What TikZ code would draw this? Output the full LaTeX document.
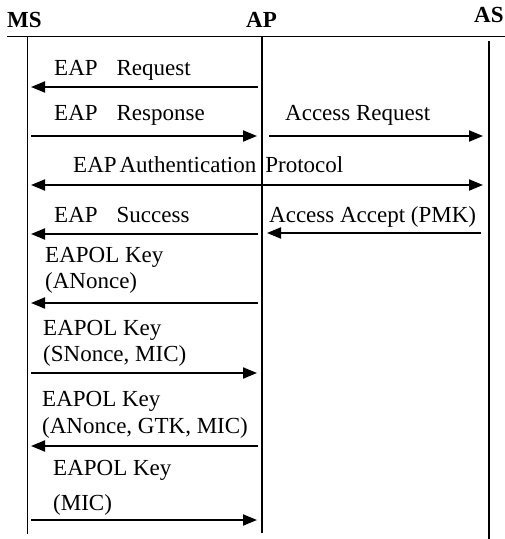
\documentclass[tikz,border=0pt]{standalone}
\usepackage{fontspec}
\setmainfont{Liberation Serif}
\usetikzlibrary{arrows.meta}
\begin{document}
\begin{tikzpicture}[x=1pt,y=-1pt,
  tip/.tip={Triangle[length=14pt,width=11pt]},
  msg/.style={line width=2pt,-tip},
  msgboth/.style={line width=2pt,tip-tip},
  life/.style={line width=1.3pt},
  lbl/.style={anchor=base west,inner sep=0pt,font=\fontsize{23}{27}\selectfont},
  ent/.style={anchor=base west,inner sep=0pt,font=\fontsize{23}{27}\selectfont\bfseries}]
\useasboundingbox (0,0) rectangle (505,539);

% entity headings
\node[ent] (ms) at (7,27) {MS};
\node[ent] (ap) at (246,27) {AP};
\node[ent] (as) at (474,22) {AS};

% header rule and lifelines
\coordinate (rulel) at (7,36);
\coordinate (ruler) at (505,36);
\draw[line width=1pt] (rulel) -- (ruler);
\coordinate (mstop) at (27.5,36);
\coordinate (msbot) at (27.5,534);
\coordinate (aptop) at (262,36);
\coordinate (apbot) at (262,533);
\coordinate (astop) at (489,41);
\coordinate (asbot) at (489,539);
\draw[life] (mstop) -- (msbot);
\draw[life] (aptop) -- (apbot);
\draw[life] (astop) -- (asbot);

% EAP Request
\node[lbl] (t1) at (54,75) {EAP\hspace{19pt}Request};
\coordinate (m1s) at (258,87); \coordinate (m1e) at (31,87);
\draw[msg] (m1s) -- (m1e);

% EAP Response / Access Request
\node[lbl] (t2) at (54,120) {EAP\hspace{19pt}Response};
\coordinate (m2s) at (31,136); \coordinate (m2e) at (257,136);
\draw[msg] (m2s) -- (m2e);
\node[lbl] (t3) at (285,120) {Access Request};
\coordinate (m3s) at (269,136); \coordinate (m3e) at (483,136);
\draw[msg] (m3s) -- (m3e);

% EAP Authentication Protocol
\node[lbl] (t4) at (73,172) {EAP\hspace{3pt}Authentication\hspace{9pt}Protocol};
\coordinate (m4s) at (31,185); \coordinate (m4e) at (483,185);
\draw[msgboth] (m4s) -- (m4e);

% EAP Success / Access Accept
\node[lbl] (t5) at (54,222) {EAP\hspace{19pt}Success};
\coordinate (m5s) at (258,234); \coordinate (m5e) at (31,234);
\draw[msg] (m5s) -- (m5e);
\node[lbl] (t6) at (269,222) {Access Accept (PMK)};
\coordinate (m6s) at (481,233); \coordinate (m6e) at (267,233);
\draw[msg] (m6s) -- (m6e);

% EAPOL-Key message 1
\node[lbl] (t7a) at (45,262) {EAPOL Key};
\node[lbl] (t7b) at (45,288) {(ANonce)};
\coordinate (m7s) at (258,303); \coordinate (m7e) at (31,303);
\draw[msg] (m7s) -- (m7e);

% EAPOL-Key message 2
\node[lbl] (t8a) at (43,335) {EAPOL Key};
\node[lbl] (t8b) at (43,361) {(SNonce, MIC)};
\coordinate (m8s) at (31,373); \coordinate (m8e) at (257,373);
\draw[msg] (m8s) -- (m8e);

% EAPOL-Key message 3
\node[lbl] (t9a) at (42,406) {EAPOL Key};
\node[lbl] (t9b) at (42,433) {(ANonce, GTK, MIC)};
\coordinate (m9s) at (258,446); \coordinate (m9e) at (31,446);
\draw[msg] (m9s) -- (m9e);

% EAPOL-Key message 4
\node[lbl] (t10a) at (53,475) {EAPOL Key};
\node[lbl] (t10b) at (53,510) {(MIC)};
\coordinate (m10s) at (31,520); \coordinate (m10e) at (257,520);
\draw[msg] (m10s) -- (m10e);
\end{tikzpicture}
\end{document}
